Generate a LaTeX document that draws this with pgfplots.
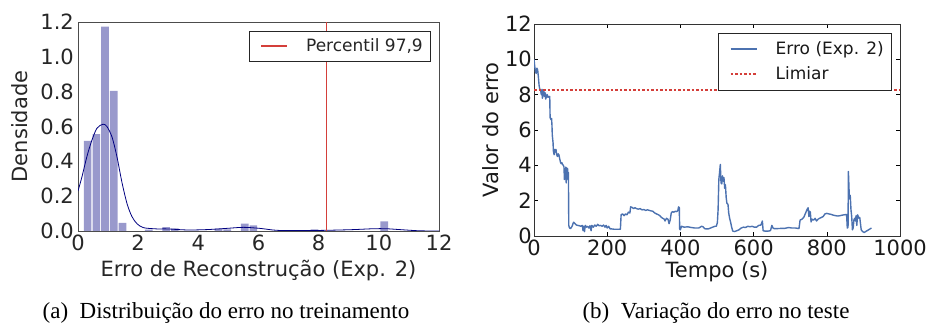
\documentclass[border=0pt]{standalone}
\usepackage{fontspec}
\setmainfont{Liberation Serif}
\newfontfamily\dejavu{DejaVu Sans}
\usepackage{pgfplots}
\pgfplotsset{compat=1.18}
\definecolor{histc}{HTML}{9999CC}
\definecolor{kdec}{HTML}{000080}
\definecolor{redl}{HTML}{D43F3A}
\definecolor{bluel}{HTML}{4C72B0}
\definecolor{txt}{HTML}{262626}
\pgfplotsset{
  mylegimg/.style={legend image code/.code={%
    \pgfpathmoveto{\pgfpoint{-5pt}{-12.5pt}}\pgfpathmoveto{\pgfpoint{45pt}{12.5pt}}\pgfusepath{}%
    \draw[##1, line width=1.6pt] (0pt,0pt) -- (26pt,0pt);}},
}
\begin{document}
\begin{tikzpicture}
\useasboundingbox (0,0) rectangle (928pt,326pt);
% ---------------- left: histogram ----------------
\begin{axis}[
  at={(78pt,95pt)}, anchor=south west,
  scale only axis, width=361pt, height=209pt,
  xmin=0, xmax=12, ymin=0, ymax=1.2,
  xtick={0,2,...,12}, xticklabels={0,2,4,6,8,10,12},
  ytick={0,0.2,0.4,0.6,0.8,1.0,1.2}, yticklabels={0.0,0.2,0.4,0.6,0.8,1.0,1.2},
  major tick length=0pt,
  axis line style={black!70, line width=0.8pt},
  tick label style={font=\dejavu\fontsize{21}{21}\selectfont, text=txt, inner sep=0pt},
  xticklabel style={anchor=north, yshift=-4pt},
  yticklabel style={anchor=east, xshift=-4pt},
  xlabel={Erro de Reconstrução (Exp. 2)},
  ylabel={Densidade},
  label style={font=\dejavu\fontsize{21}{21}\selectfont, text=txt, inner sep=0pt},
  xlabel style={at={([yshift=-46pt]axis description cs:0.5,0)}, anchor=base},
  ylabel style={at={([xshift=-50pt]axis description cs:0,0.5)}, anchor=base},
  legend style={at={([xshift=-9pt,yshift=-9pt]axis description cs:1,1)}, anchor=north east,
    draw=black!85, fill=white, inner xsep=7pt, inner ysep=2.5pt,
    font=\dejavu\fontsize{17}{17}\selectfont, text=txt, nodes={inner sep=0pt}, cells={anchor=west}},
  mylegimg,
]
\addplot[ybar, bar width=0.255, bar shift=0pt, fill=histc, draw=none, forget plot] coordinates {
 (0.32,0.517) (0.61,0.556) (0.90,1.173) (1.19,0.805) (1.48,0.046)
 (2.35,0.008) (2.93,0.022) (3.22,0.015) (4.67,0.013) (4.96,0.010)
 (5.54,0.042) (5.83,0.033) (7.86,0.009) (10.18,0.055)
};
\addplot[kdec, line width=0.8pt, smooth, forget plot] coordinates {
 (0,0.23) (0.13,0.31) (0.30,0.43) (0.46,0.52) (0.63,0.59) (0.83,0.613) (0.96,0.60)
 (1.13,0.54) (1.29,0.43) (1.46,0.28) (1.63,0.157) (1.79,0.084) (1.96,0.042)
 (2.18,0.019) (2.62,0.012) (2.95,0.012) (3.62,0.006) (4.28,0.008) (4.94,0.015)
 (5.5,0.021) (6.05,0.015) (6.6,0.004) (7.38,0.002) (8.26,0.004) (9.15,0.008)
 (9.81,0.013) (10.25,0.013) (10.7,0.008) (11.25,0.002) (11.7,0.0) (12,0.0)
};
\addplot[redl, line width=1.2pt] coordinates {(8.25,0) (8.25,1.2)};
\addlegendentry{Percentil 97,9}
\end{axis}
% ---------------- right: time series ----------------
\begin{axis}[
  at={(534pt,90pt)}, anchor=south west,
  scale only axis, width=366pt, height=212pt,
  xmin=0, xmax=1000, ymin=0, ymax=12,
  xtick={0,200,400,600,800,1000}, xticklabels={0,200,400,600,800,1000},
  ytick={0,2,4,6,8,10,12}, yticklabels={0,2,4,6,8,10,12},
  tick align=inside, major tick length=4pt,
  tick style={black, line width=0.6pt},
  axis line style={black!80, line width=0.8pt},
  tick label style={font=\dejavu\fontsize{21}{21}\selectfont, text=black!90, inner sep=0pt},
  xticklabel style={anchor=north, yshift=-4pt},
  yticklabel style={anchor=east, xshift=-2pt},
  xlabel={Tempo (s)},
  ylabel={Valor do erro},
  label style={font=\dejavu\fontsize{21}{21}\selectfont, text=black!90, inner sep=0pt},
  xlabel style={at={([yshift=-42pt]axis description cs:0.5,0)}, anchor=base},
  ylabel style={at={([xshift=-36pt]axis description cs:0,0.5)}, anchor=base},
  legend style={at={([xshift=-9pt,yshift=-9pt]axis description cs:1,1)}, anchor=north east,
    draw=black!85, fill=white, inner xsep=7pt, inner ysep=3.5pt,
    font=\dejavu\fontsize{17}{17}\selectfont, text=black!90, nodes={inner sep=0pt}, cells={anchor=west}},
  mylegimg,
]
\addplot[bluel, line width=1.4pt, line join=round] coordinates {
(0,10.0) (2,9.6) (4,9.3) (6,9.2) (8,9.5) (10,9.4) (12,9.0) (14,8.5) (16,8.3) (18,8.25)
(20,8.0) (22,8.3) (23,7.8) (25,8.0) (27,8.2) (29,7.9) (31,8.1) (32,7.75) (34,7.9) (36,8.0)
(38,7.85) (40,7.9) (42,7.85) (43,7.9) (44,6.7) (46,6.6) (48,6.65) (49,6.3) (50,5.7) (52,5.3)
(53,4.8) (55,4.6) (57,4.9) (59,4.75) (60,4.9) (62,4.6) (64,4.5) (66,4.65) (68,4.6) (70,4.4)
(72,4.2) (74,4.1) (76,4.15) (78,4.05) (80,4.0) (82,3.9) (83,3.2) (85,3.8) (86,3.5) (87,3.9)
(88,3.0) (89,3.6) (90,3.85) (91,3.3) (92,3.8) (93,3.2) (94,3.6) (95,0.6) (97,0.45) (100,0.42)
(104,0.55) (108,0.78) (112,0.7) (116,0.62) (120,0.6) (124,0.58) (128,0.55) (132,0.6) (134,0.3) (136,0.55)
(138,0.25) (140,0.6) (143,0.5) (146,0.55) (150,0.45) (153,0.58) (156,0.3) (158,0.6) (162,0.5) (166,0.62)
(170,0.55) (174,0.66) (178,0.58) (182,0.6) (186,0.55) (190,0.62) (194,0.5) (197,0.6) (200,0.45) (204,0.55)
(208,0.4) (212,0.4) (220,0.38) (230,0.38) (236,0.38) (238,1.2) (242,1.25) (246,1.15) (250,1.25) (254,1.2)
(258,1.35) (262,1.3) (264,1.65) (268,1.62) (272,1.55) (276,1.6) (280,1.55) (285,1.52) (290,1.55) (295,1.48)
(300,1.5) (305,1.45) (310,1.48) (315,1.45) (320,1.42) (325,1.4) (330,1.3) (335,1.25) (340,1.2) (344,1.15)
(348,1.05) (352,1.0) (356,0.95) (358,0.85) (362,1.0) (366,0.95) (369,0.7) (372,0.9) (375,1.3) (378,1.38)
(382,1.35) (386,1.4) (390,1.38) (393,1.45) (395,1.65) (397,1.6) (398,0.4) (400,0.35) (403,0.55) (410,0.5)
(420,0.52) (430,0.48) (440,0.45) (450,0.45) (458,0.55) (462,0.52) (466,0.42) (470,0.4) (476,0.4) (482,0.45)
(488,0.5) (494,0.55) (498,0.55) (501,0.75) (503,1.5) (505,3.2) (507,3.6) (509,4.05) (511,3.0) (513,2.95)
(515,3.4) (517,3.1) (519,3.3) (521,2.7) (523,2.9) (525,2.2) (527,1.85) (530,1.8) (532,1.3) (534,1.05)
(537,0.8) (540,0.5) (543,0.28) (548,0.25) (554,0.3) (560,0.35) (566,0.45) (572,0.5) (578,0.48) (584,0.55)
(590,0.52) (596,0.55) (602,0.5) (608,0.5) (614,0.6) (620,0.62) (624,0.85) (626,0.3) (630,0.28) (640,0.28)
(646,0.3) (650,0.6) (653,0.45) (656,0.42) (665,0.42) (675,0.43) (685,0.43) (695,0.48) (705,0.45) (715,0.45)
(724,0.42) (727,0.9) (732,0.95) (737,1.05) (742,1.3) (746,1.5) (749,1.6) (751,1.1) (753,1.4) (755,1.35)
(757,0.8) (760,0.95) (764,0.9) (768,1.0) (772,0.85) (776,0.95) (780,1.0) (785,1.05) (790,1.1) (795,1.25)
(800,1.28) (806,1.25) (812,1.22) (818,1.18) (824,1.15) (830,1.13) (836,1.15) (842,1.18) (848,1.2) (854,1.22)
(856,0.45) (858,0.5) (859,3.65) (861,2.5) (862,2.1) (864,2.3) (866,1.5) (868,1.1) (870,0.35) (872,0.45)
(874,0.9) (876,1.0) (878,0.85) (880,1.15) (882,0.6) (884,1.2) (886,1.1) (888,1.0) (890,1.05) (892,0.7)
(894,0.35) (898,0.25) (902,0.2) (906,0.25) (910,0.3) (914,0.35) (918,0.4) (922,0.45)
};
\addlegendentry{Erro (Exp. 2)}
\addplot[redl, line width=1.5pt, dash pattern=on 2.5pt off 2pt] coordinates {(0,8.25) (1000,8.25)};
\addlegendentry{Limiar}
\end{axis}
% ---------------- captions ----------------
\node[anchor=base, font=\fontsize{23}{23}\selectfont, inner sep=0pt] at (226pt,7pt) {(a)\enspace Distribuição do erro no treinamento};
\node[anchor=base, font=\fontsize{23}{23}\selectfont, inner sep=0pt] at (716pt,7pt) {(b)\enspace Variação do erro no teste};
\end{tikzpicture}
\end{document}
